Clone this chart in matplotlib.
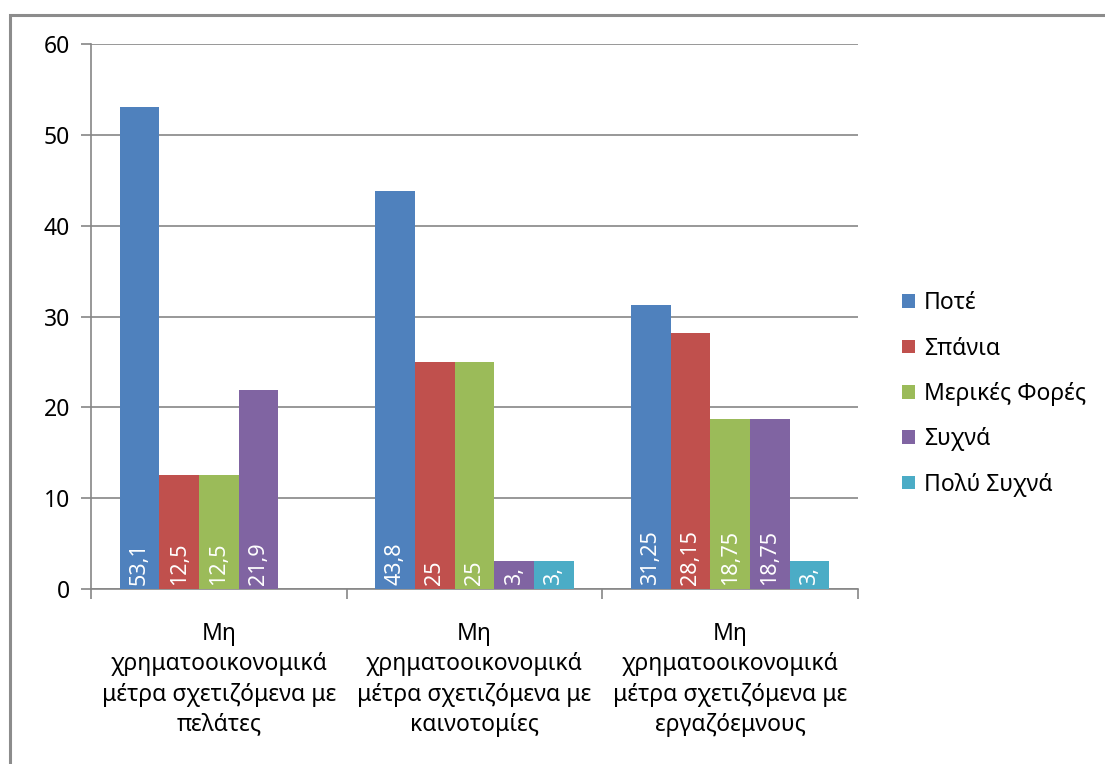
import matplotlib

matplotlib.use("Agg")
import matplotlib.pyplot as plt
import numpy as np
from matplotlib.patches import Patch, Rectangle

plt.rcParams["font.family"] = ["Noto Sans", "DejaVu Sans"]

CATEGORIES = [
    "Μη\nχρηματοοικονομικά\nμέτρα σχετιζόμενα με\nπελάτες",
    "Μη\nχρηματοοικονομικά\nμέτρα σχετιζόμενα με\nκαινοτομίες",
    "Μη\nχρηματοοικονομικά\nμέτρα σχετιζόμενα με\nεργαζόεμνους",
]
SERIES = ["Ποτέ", "Σπάνια", "Μερικές Φορές", "Συχνά", "Πολύ Συχνά"]
COLORS = ["#4F81BD", "#C0504D", "#9BBB59", "#8064A2", "#4BACC6"]

# one list per series, one value per category (None = no bar)
POTE = [53.1, 43.8, 31.25]
SPANIA = [12.5, 25, 28.15]
MERIKES = [12.5, 25, 18.75]
SYXNA = [21.9, 3.1, 18.75]
POLY_SYXNA = [None, 3.1, 3.1]
VALUES = [POTE, SPANIA, MERIKES, SYXNA, POLY_SYXNA]

# data labels as printed inside the bars (short bars get cut off)
LABELS = [
    ["53,1", "43,8", "31,25"],
    ["12,5", "25", "28,15"],
    ["12,5", "25", "18,75"],
    ["21,9", "3,", "18,75"],
    [None, "3,", "3,"],
]

W, H = 1105, 764
fig = plt.figure(figsize=(W / 100, H / 100), dpi=100)
ax = fig.add_axes([91 / W, 1 - 589 / H, (858 - 91) / W, (589 - 44) / H])

grey = "#868686"
n_series = len(SERIES)
bar_w = 0.155
x = np.arange(len(CATEGORIES))

for i, (vals, labs) in enumerate(zip(VALUES, LABELS)):
    offs = (i - (n_series - 1) / 2) * bar_w
    for j, v in enumerate(vals):
        if v is None:
            continue
        ax.bar(x[j] + offs, v, width=bar_w, color=COLORS[i], zorder=3)
        ax.text(x[j] + offs, 0.4, labs[j], rotation=90, ha="center", va="bottom",
                color="white", fontsize=15.5, zorder=4)

ax.set_xlim(-0.5, len(CATEGORIES) - 0.5)
ax.set_ylim(0, 60)
ax.set_yticks(np.arange(0, 61, 10))
ax.yaxis.grid(True, color=grey, linewidth=1.2, zorder=0)
ax.set_axisbelow(True)

ax.set_xticks(np.arange(-0.5, len(CATEGORIES)), minor=False)
ax.set_xticklabels([])
ax.set_xticks(x, minor=True)
ax.set_xticklabels(CATEGORIES, minor=True, fontsize=16.5, linespacing=1.34)
ax.tick_params(axis="x", which="major", length=7, color=grey, width=1.2, direction="out")
ax.tick_params(axis="x", which="minor", length=0, pad=24)
ax.tick_params(axis="y", length=7, color=grey, width=1.2, labelsize=16.5, pad=8)

for side in ["top", "right"]:
    ax.spines[side].set_visible(False)
for side in ["left", "bottom"]:
    ax.spines[side].set_color(grey)
    ax.spines[side].set_linewidth(1.2)

handles = [Patch(facecolor=c) for c in COLORS]
fig.legend(handles, SERIES, loc="upper left", bbox_to_anchor=(884 / W, 1 - 273 / H),
           frameon=False, fontsize=16.5, handlelength=0.55, handleheight=0.55,
           handletextpad=0.4, labelspacing=0.93, borderpad=0.3)

# outer chart frame
fig.patches.append(Rectangle((10 / W, -0.1), 1.2, 1 - 15 / H + 0.1,
                             transform=fig.transFigure, fill=False,
                             edgecolor="#8c8c8c", linewidth=2.2))

fig.savefig("out.png", dpi=100)
